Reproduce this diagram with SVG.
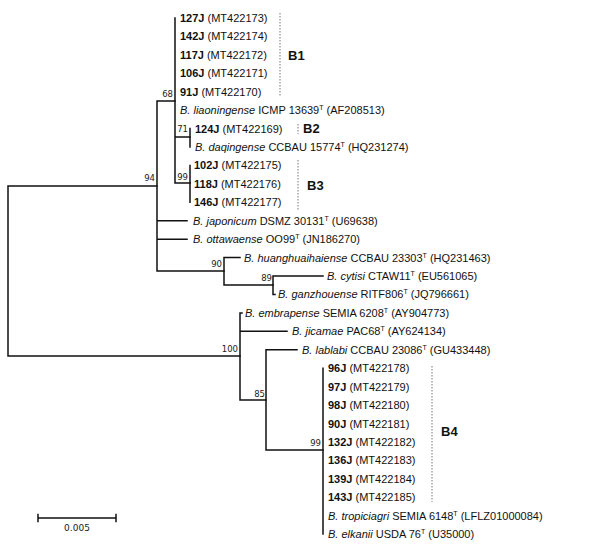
<svg xmlns="http://www.w3.org/2000/svg" width="600" height="544" viewBox="0 0 600 544">
<style>
.lf{font-family:"Liberation Sans",Arial,sans-serif;font-size:11px;fill:#111}
.b{font-weight:bold}
.i{font-style:italic}
.bs{font-family:"DejaVu Sans",Verdana,sans-serif;font-size:8.5px;fill:#222;text-anchor:end}
.cl{font-family:"Liberation Sans",Arial,sans-serif;font-size:13px;font-weight:bold;fill:#111}
.br{stroke:#111;stroke-width:1.5;fill:none;stroke-linecap:square}
.dot{stroke:#777;stroke-width:1;stroke-dasharray:1.5 1.5;fill:none}
.sc{font-family:"DejaVu Sans",Verdana,sans-serif;font-size:9px;fill:#222;text-anchor:middle}
</style>
<g id="connectors">
<path class="br" d="M8,186V356M8,186H157M8,356H240"/>
<path class="br" d="M157,101V271M157,101H175M157,220.7H187M157,239.2H187M157,271H224"/>
<path class="br" d="M175,18V183M175,137H190M175,183H190"/>
<path class="br" d="M190,128.6V147M190,165.4V202.3"/>
<path class="br" d="M224,257.6V285M224,257.6H240M224,285H273"/>
<path class="br" d="M273,276V294.4M273,276H323M273,294.4H275"/>
<path class="br" d="M240,312.9V400M240,312.9H242M240,331.3H287M240,400H266"/>
<path class="br" d="M266,349.7V450M266,349.7H297M266,450H323"/>
<path class="br" d="M323,368.2V534"/>
</g>
<g id="n_root"/>
<g id="n94"><text class="bs" x="155" y="181">94</text></g>
<g id="n68"><text class="bs" x="173" y="97">68</text></g>
<g id="n71"><text class="bs" x="188" y="132">71</text></g>
<g id="n99a"><text class="bs" x="188" y="180">99</text></g>
<g id="n90"><text class="bs" x="222" y="267">90</text></g>
<g id="n89"><text class="bs" x="272" y="281">89</text></g>
<g id="n100"><text class="bs" x="238" y="352">100</text></g>
<g id="n85"><text class="bs" x="265" y="397">85</text></g>
<g id="n99b"><text class="bs" x="321" y="446">99</text></g>
<g id="leaf0"><text class="lf" x="180" y="22"><tspan class="b">127J</tspan> (MT422173)</text></g>
<g id="leaf1"><text class="lf" x="180" y="40.4"><tspan class="b">142J</tspan> (MT422174)</text></g>
<g id="leaf2"><text class="lf" x="180" y="58.9"><tspan class="b">117J</tspan> (MT422172)</text></g>
<g id="leaf3"><text class="lf" x="180" y="77.3"><tspan class="b">106J</tspan> (MT422171)</text></g>
<g id="leaf4"><text class="lf" x="180" y="95.7"><tspan class="b">91J</tspan> (MT422170)</text></g>
<g id="leaf5"><text class="lf" x="180" y="114.1"><tspan class="i">B. liaoningense</tspan> ICMP 13639<tspan dy="-4" font-size="7">T</tspan><tspan dy="4"> (AF208513)</tspan></text></g>
<g id="leaf6"><text class="lf" x="195" y="132.6"><tspan class="b">124J</tspan> (MT422169)</text></g>
<g id="leaf7"><text class="lf" x="195" y="151"><tspan class="i">B. daqingense</tspan> CCBAU 15774<tspan dy="-4" font-size="7">T</tspan><tspan dy="4"> (HQ231274)</tspan></text></g>
<g id="leaf8"><text class="lf" x="194" y="169.4"><tspan class="b">102J</tspan> (MT422175)</text></g>
<g id="leaf9"><text class="lf" x="194" y="187.9"><tspan class="b">118J</tspan> (MT422176)</text></g>
<g id="leaf10"><text class="lf" x="194" y="206.3"><tspan class="b">146J</tspan> (MT422177)</text></g>
<g id="leaf11"><text class="lf" x="193" y="224.7"><tspan class="i">B. japonicum</tspan> DSMZ 30131<tspan dy="-4" font-size="7">T</tspan><tspan dy="4"> (U69638)</tspan></text></g>
<g id="leaf12"><text class="lf" x="193" y="243.2"><tspan class="i">B. ottawaense</tspan> OO99<tspan dy="-4" font-size="7">T</tspan><tspan dy="4"> (JN186270)</tspan></text></g>
<g id="leaf13"><text class="lf" x="244" y="261.6"><tspan class="i">B. huanghuaihaiense</tspan> CCBAU 23303<tspan dy="-4" font-size="7">T</tspan><tspan dy="4"> (HQ231463)</tspan></text></g>
<g id="leaf14"><text class="lf" x="327" y="280"><tspan class="i">B. cytisi</tspan> CTAW11<tspan dy="-4" font-size="7">T</tspan><tspan dy="4"> (EU561065)</tspan></text></g>
<g id="leaf15"><text class="lf" x="278" y="298.4"><tspan class="i">B. ganzhouense</tspan> RITF806<tspan dy="-4" font-size="7">T</tspan><tspan dy="4"> (JQ796661)</tspan></text></g>
<g id="leaf16"><text class="lf" x="245" y="316.9"><tspan class="i">B. embrapense</tspan> SEMIA 6208<tspan dy="-4" font-size="7">T</tspan><tspan dy="4"> (AY904773)</tspan></text></g>
<g id="leaf17"><text class="lf" x="292" y="335.3"><tspan class="i">B. jicamae</tspan> PAC68<tspan dy="-4" font-size="7">T</tspan><tspan dy="4"> (AY624134)</tspan></text></g>
<g id="leaf18"><text class="lf" x="302" y="353.7"><tspan class="i">B. lablabi</tspan> CCBAU 23086<tspan dy="-4" font-size="7">T</tspan><tspan dy="4"> (GU433448)</tspan></text></g>
<g id="leaf19"><text class="lf" x="328" y="372.2"><tspan class="b">96J</tspan> (MT422178)</text></g>
<g id="leaf20"><text class="lf" x="328" y="390.6"><tspan class="b">97J</tspan> (MT422179)</text></g>
<g id="leaf21"><text class="lf" x="328" y="409"><tspan class="b">98J</tspan> (MT422180)</text></g>
<g id="leaf22"><text class="lf" x="328" y="427.5"><tspan class="b">90J</tspan> (MT422181)</text></g>
<g id="leaf23"><text class="lf" x="328" y="445.9"><tspan class="b">132J</tspan> (MT422182)</text></g>
<g id="leaf24"><text class="lf" x="328" y="464.3"><tspan class="b">136J</tspan> (MT422183)</text></g>
<g id="leaf25"><text class="lf" x="328" y="482.7"><tspan class="b">139J</tspan> (MT422184)</text></g>
<g id="leaf26"><text class="lf" x="328" y="501.2"><tspan class="b">143J</tspan> (MT422185)</text></g>
<g id="leaf27"><text class="lf" x="328" y="519.6"><tspan class="i">B. tropiciagri</tspan> SEMIA 6148<tspan dy="-4" font-size="7">T</tspan><tspan dy="4"> (LFLZ01000084)</tspan></text></g>
<g id="leaf28"><text class="lf" x="328" y="538"><tspan class="i">B. elkanii</tspan> USDA 76<tspan dy="-4" font-size="7">T</tspan><tspan dy="4"> (U35000)</tspan></text></g>
<g id="cladeB1"><line class="dot" x1="280" y1="13" x2="280" y2="96"/><text class="cl" x="288" y="60">B1</text></g>
<g id="cladeB2"><line class="dot" x1="298" y1="124" x2="298" y2="134"/><text class="cl" x="303" y="133">B2</text></g>
<g id="cladeB3"><line class="dot" x1="298" y1="160" x2="298" y2="210"/><text class="cl" x="307" y="190">B3</text></g>
<g id="cladeB4"><line class="dot" x1="432" y1="366" x2="432" y2="502"/><text class="cl" x="441" y="436">B4</text></g>
<g id="scalebar"><path class="br" d="M38,518H116M38,514.5V521.5M116,514.5V521.5"/><text class="sc" x="77" y="531">0.005</text></g>
</svg>
